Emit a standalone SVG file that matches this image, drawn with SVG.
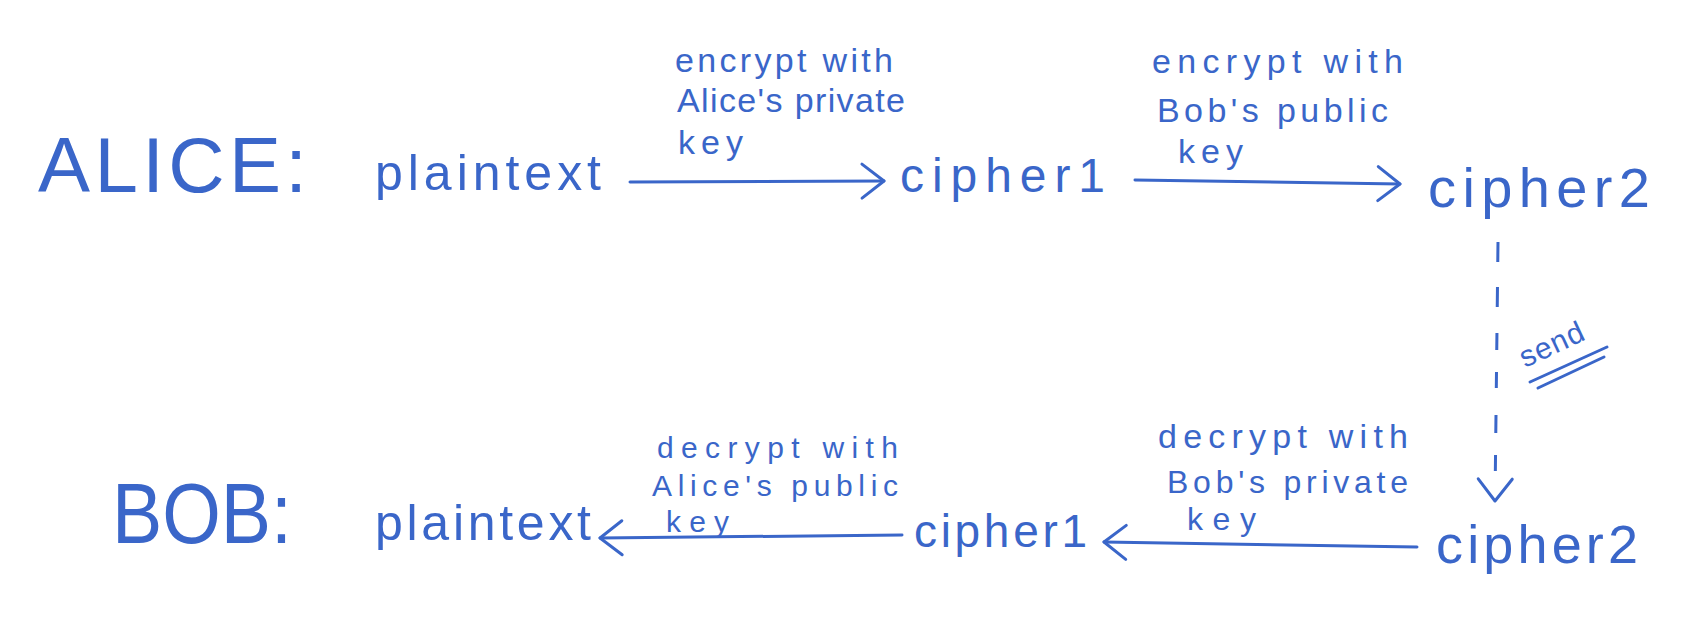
<svg xmlns="http://www.w3.org/2000/svg" width="1682" height="617" viewBox="0 0 1682 617">
  <style>
    text { font-family: "Liberation Sans", Arial, sans-serif; fill: #3a66c9; }
    .actor { font-size: 78px; }
    .node { font-size: 50px; }
    .lbl { font-size: 34px; }
    .lbl-s { font-size: 30px; }
    .conn { fill: none; stroke: #3a66c9; stroke-width: 3; stroke-linecap: round; stroke-linejoin: round; }
    .dash { stroke-dasharray: 20 25 20 26 17 22 16 27 18 22 16 30; stroke-linecap: butt; }
  </style>
  <defs>
    <marker id="chev" markerUnits="userSpaceOnUse" viewBox="-26 -20 30 40" refX="0" refY="0" markerWidth="30" markerHeight="40" orient="auto">
      <path d="M-22,-17 L0,0 L-22,17" fill="none" stroke="#3a66c9" stroke-width="3" stroke-linecap="round" stroke-linejoin="round"/>
    </marker>
  </defs>
  <rect x="0" y="0" width="1682" height="617" fill="#ffffff"/>

  <g id="alice-label"><text class="actor" x="38" y="192" textLength="269">ALICE:</text></g>
  <g id="alice-plaintext"><text class="node" x="375" y="190" textLength="226">plaintext</text></g>
  <g id="alice-cipher1"><text class="node" style="font-size:48px" x="900" y="192" textLength="205">cipher1</text></g>
  <g id="alice-cipher2"><text class="node" style="font-size:56px" x="1428" y="207" textLength="222">cipher2</text></g>

  <g id="bob-label"><text class="actor" style="font-size:86px" x="112" y="543" textLength="180" lengthAdjust="spacingAndGlyphs">BOB:</text></g>
  <g id="bob-plaintext"><text class="node" x="375" y="540" textLength="216">plaintext</text></g>
  <g id="bob-cipher1"><text class="node" style="font-size:46px" x="914" y="547" textLength="173">cipher1</text></g>
  <g id="bob-cipher2"><text class="node" style="font-size:54px" x="1436" y="563" textLength="202">cipher2</text></g>

  <g id="connectors">
    <path class="conn" d="M630,182 L884,181" marker-end="url(#chev)"/>
    <path class="conn" d="M1135,180 L1400,184" marker-end="url(#chev)"/>
    <path class="conn dash" d="M1498,242 L1495,501" marker-end="url(#chev)"/>
    <path class="conn" d="M1417,547 L1104,542" marker-end="url(#chev)"/>
    <path class="conn" d="M902,535 L600,538" marker-end="url(#chev)"/>
  </g>

  <g id="edge-labels">
    <g id="label-encrypt-alice-private">
      <text class="lbl" x="675" y="72" textLength="218">encrypt with</text>
      <text class="lbl" x="677" y="112" textLength="228">Alice's private</text>
      <text class="lbl" x="678" y="154" textLength="65">key</text>
    </g>
    <g id="label-encrypt-bob-public">
      <text class="lbl" x="1152" y="73" textLength="251">encrypt with</text>
      <text class="lbl" x="1157" y="122" textLength="231">Bob's public</text>
      <text class="lbl" x="1178" y="163" textLength="65">key</text>
    </g>
    <g id="label-send">
      <text class="lbl-s" transform="translate(1525,368) rotate(-25)" x="0" y="0" textLength="68">send</text>
      <path class="conn" d="M1530,382 L1607,347 M1538,388 L1604,357"/>
    </g>
    <g id="label-decrypt-bob-private">
      <text class="lbl" x="1158" y="448" textLength="250">decrypt with</text>
      <text class="lbl" style="font-size:32px" x="1167" y="493" textLength="241">Bob's private</text>
      <text class="lbl" style="font-size:32px" x="1187" y="530" textLength="69">key</text>
    </g>
    <g id="label-decrypt-alice-public">
      <text class="lbl-s" x="657" y="458" textLength="241">decrypt with</text>
      <text class="lbl-s" x="652" y="496" textLength="246">Alice's public</text>
      <text class="lbl-s" x="666" y="532" textLength="63">key</text>
    </g>
  </g>
</svg>
